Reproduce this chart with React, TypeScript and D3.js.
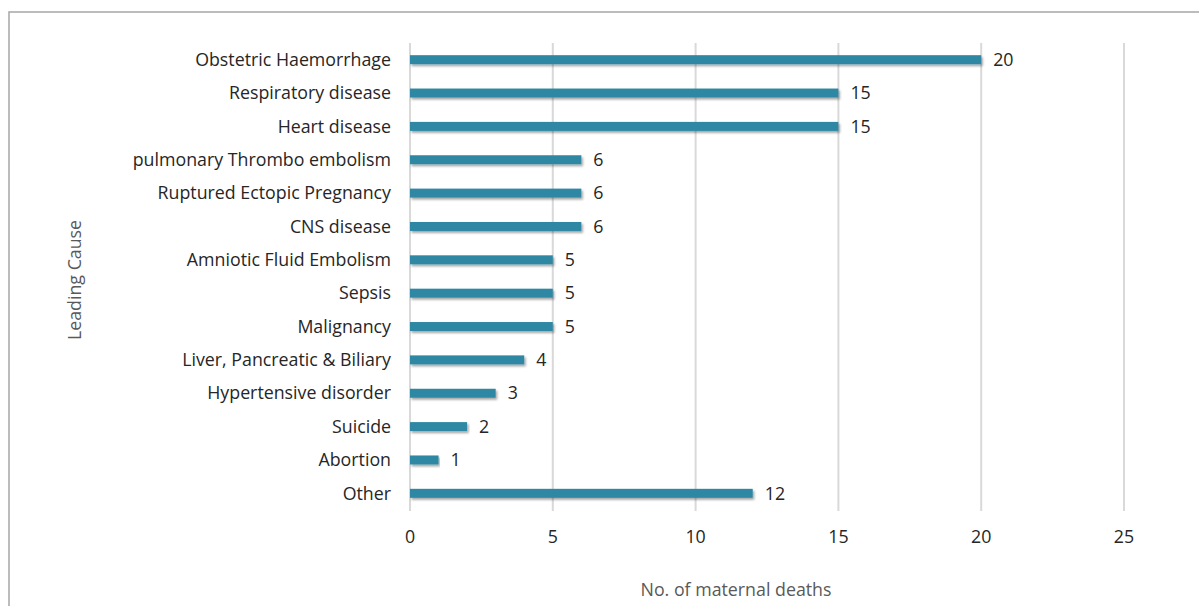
import React from "react";
import * as d3 from "d3";

const causes = [
  "Obstetric Haemorrhage",
  "Respiratory disease",
  "Heart disease",
  "pulmonary Thrombo embolism",
  "Ruptured Ectopic Pregnancy",
  "CNS disease",
  "Amniotic Fluid Embolism",
  "Sepsis",
  "Malignancy",
  "Liver, Pancreatic & Biliary",
  "Hypertensive disorder",
  "Suicide",
  "Abortion",
  "Other",
];
const deaths = [20, 15, 15, 6, 6, 6, 5, 5, 5, 4, 3, 2, 1, 12];
const xTicks = [0, 5, 10, 15, 20, 25];

const W = 1199;
const H = 606;
const font = "'Open Sans', Lato, sans-serif";
const fs = 17.8;

export default function App() {
  const x = d3.scaleLinear().domain([0, 25]).range([410, 1124]);
  const y = d3.scaleBand().domain(causes).range([43, 510]).paddingInner(0.7).paddingOuter(0.35);
  const bh = 9;

  return (
    <svg width={W} height={H} style={{ position: "absolute", left: 0, top: 0 }}>
      <defs>
        <filter id="shadow" x="-5%" y="-50%" width="110%" height="250%">
          <feDropShadow dx="1.5" dy="2" stdDeviation="1.2" floodColor="#000" floodOpacity="0.35" />
        </filter>
      </defs>
      <rect x={0} y={0} width={W} height={H} fill="#fff" />
      {/* outer frame, open at right and bottom */}
      <path d={`M9,${H} V12 H${W}`} fill="none" stroke="#a6a6a6" strokeWidth={1.5} />

      {/* grid */}
      {xTicks.map(t => (
        <line key={t} x1={x(t)} x2={x(t)} y1={43} y2={511} stroke="#d9d9d9" strokeWidth={2} />
      ))}

      {/* bars */}
      {causes.map((c, i) => {
        const cy = (y(c) ?? 0) + y.bandwidth() / 2;
        return (
          <g key={c}>
            <rect x={x(0)} y={cy - bh / 2} width={x(deaths[i]) - x(0)} height={bh} fill="#2e88a4" filter="url(#shadow)" />
            <text x={x(deaths[i]) + 12} y={cy} dy="0.35em" fontSize={fs} fontFamily={font} fill="#262626">
              {deaths[i]}
            </text>
            <text x={391} y={cy} dy="0.35em" textAnchor="end" fontSize={fs} fontFamily={font} fill="#262626">
              {c}
            </text>
          </g>
        );
      })}

      {/* x tick labels */}
      {xTicks.map(t => (
        <text key={t} x={x(t)} y={537} dy="0.35em" textAnchor="middle" fontSize={fs} fontFamily={font} fill="#262626">
          {t}
        </text>
      ))}

      {/* axis titles */}
      <text x={736} y={590} dy="0.35em" textAnchor="middle" fontSize={fs} fontFamily={font} fill="#595959">
        No. of maternal deaths
      </text>
      <text
        transform="translate(75,280) rotate(-90)"
        dy="0.35em"
        textAnchor="middle"
        fontSize={fs}
        fontFamily={font}
        fill="#595959"
      >
        Leading Cause
      </text>
    </svg>
  );
}
